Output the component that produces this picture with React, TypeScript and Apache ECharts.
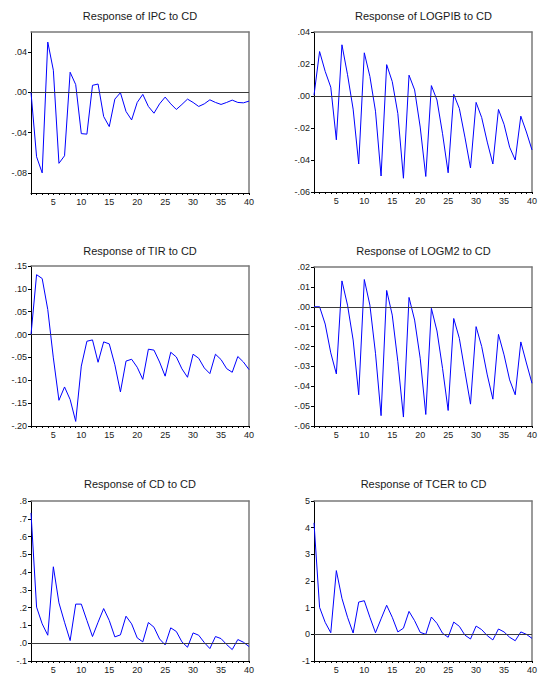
import React, { useEffect, useRef } from "react";
import * as echarts from "echarts";

// Impulse responses to a CD shock, periods 1..40
const periods: number[] = Array.from({ length: 40 }, (_, i) => i + 1);

const ipc = [
  0.0, -0.064, -0.08, 0.05, 0.022, -0.0705, -0.063, 0.02, 0.0077, -0.041,
  -0.0415, 0.007, 0.0083, -0.024, -0.034, -0.0067, -0.0003, -0.019, -0.0274, -0.01,
  -0.002, -0.014, -0.0207, -0.0114, -0.0047, -0.0114, -0.017, -0.012, -0.0067, -0.01,
  -0.014, -0.0114, -0.0074, -0.01, -0.012, -0.01, -0.0077, -0.01, -0.0104, -0.0087,
];
const logpib = [
  0.0005, 0.0278, 0.0154, 0.0055, -0.0274, 0.032, 0.0133, -0.0082, -0.0425, 0.027,
  0.0122, -0.0095, -0.05, 0.0196, 0.009, -0.011, -0.0514, 0.013, 0.0038, -0.0194,
  -0.0503, 0.0065, -0.0025, -0.0236, -0.048, 0.001, -0.0078, -0.0257, -0.045, -0.004,
  -0.0135, -0.0288, -0.0425, -0.0084, -0.0177, -0.032, -0.04, -0.0126, -0.0225, -0.0337,
];
const tir = [
  0.0, 0.131, 0.1226, 0.0547, -0.051, -0.1438, -0.1146, -0.142, -0.19, -0.069,
  -0.0146, -0.0117, -0.0606, -0.016, -0.0204, -0.066, -0.1255, -0.058, -0.054, -0.0715,
  -0.098, -0.032, -0.034, -0.06, -0.091, -0.0387, -0.049, -0.075, -0.0934, -0.043,
  -0.0518, -0.073, -0.0854, -0.043, -0.0547, -0.0745, -0.0825, -0.048, -0.06, -0.0766,
];
const logm2 = [
  0.0, 0.0, -0.0087, -0.0232, -0.0338, 0.013, 0.0008, -0.0167, -0.0443, 0.0137,
  0.0008, -0.0234, -0.0548, 0.0082, -0.0042, -0.0276, -0.0555, 0.0047, -0.0067, -0.0259,
  -0.0542, -0.0008, -0.0122, -0.031, -0.0522, -0.0059, -0.0159, -0.0326, -0.049, -0.01,
  -0.02, -0.0343, -0.0465, -0.0139, -0.0242, -0.0368, -0.0443, -0.0177, -0.0283, -0.0385,
];
const cd = [
  0.733, 0.203, 0.109, 0.045, 0.43, 0.227, 0.118, 0.015, 0.22, 0.22,
  0.128, 0.0376, 0.118, 0.195, 0.128, 0.0357, 0.047, 0.152, 0.109, 0.03,
  0.0075, 0.1165, 0.09, 0.024, -0.0094, 0.0865, 0.066, 0.0075, -0.0226, 0.058,
  0.045, 0.0038, -0.03, 0.0376, 0.026, -0.0075, -0.0357, 0.0207, 0.0056, -0.0188,
];
const tcer = [
  4.18, 1.01, 0.45, 0.06, 2.39, 1.35, 0.64, 0.05, 1.21, 1.26,
  0.64, 0.06, 0.58, 1.09, 0.64, 0.09, 0.23, 0.86, 0.51, 0.075,
  0.0, 0.65, 0.41, 0.04, -0.11, 0.46, 0.3, -0.03, -0.175, 0.31,
  0.175, -0.05, -0.21, 0.2, 0.09, -0.11, -0.24, 0.09, 0.0, -0.15,
];

// Axis tick values
const xLabelTicks = [5, 10, 15, 20, 25, 30, 35, 40];
const ipcTicks = [-0.08, -0.04, 0, 0.04];
const logpibTicks = [-0.06, -0.04, -0.02, 0, 0.02, 0.04];
const tirTicks = [-0.2, -0.15, -0.1, -0.05, 0, 0.05, 0.1, 0.15];
const logm2Ticks = [-0.06, -0.05, -0.04, -0.03, -0.02, -0.01, 0, 0.01, 0.02];
const cdTicks = [-0.1, 0, 0.1, 0.2, 0.3, 0.4, 0.5, 0.6, 0.7, 0.8];
const tcerTicks = [-1, 0, 1, 2, 3, 4, 5];

const titles = [
  "Response of IPC to CD",
  "Response of LOGPIB to CD",
  "Response of TIR to CD",
  "Response of LOGM2 to CD",
  "Response of CD to CD",
  "Response of TCER to CD",
];

type Panel = {
  title: string;
  values: number[];
  ticks: number[];
  min: number;
  max: number;
  decimals: number;
  left: number;
  top: number;
  width: number;
  height: number;
};

const FONT = "'Liberation Sans', Arial, sans-serif";

const fmt = (decimals: number) => (v: number) => {
  const x = Math.abs(v) < 1e-9 ? 0 : v;
  const s = x.toFixed(decimals);
  if (decimals === 0) return s;
  return s.replace(/^(-?)0\./, "$1.");
};

export default function App() {
  const ref = useRef<HTMLDivElement>(null);

  useEffect(() => {
    if (!ref.current) return;
    const chart = echarts.init(ref.current, undefined, { renderer: "svg" });

    const panels: Panel[] = [
      { title: titles[0], values: ipc, ticks: ipcTicks, min: -0.1, max: 0.06, decimals: 2, left: 31, top: 32, width: 218, height: 161 },
      { title: titles[1], values: logpib, ticks: logpibTicks, min: -0.06, max: 0.04, decimals: 2, left: 314, top: 32, width: 219, height: 160 },
      { title: titles[2], values: tir, ticks: tirTicks, min: -0.2, max: 0.15, decimals: 2, left: 31, top: 266, width: 218, height: 160 },
      { title: titles[3], values: logm2, ticks: logm2Ticks, min: -0.06, max: 0.02, decimals: 2, left: 314, top: 267, width: 219, height: 159 },
      { title: titles[4], values: cd, ticks: cdTicks, min: -0.1, max: 0.8, decimals: 1, left: 31, top: 501, width: 218, height: 160 },
      { title: titles[5], values: tcer, ticks: tcerTicks, min: -1, max: 5, decimals: 0, left: 314, top: 501, width: 219, height: 160 },
    ];
    const titleY = [16, 16, 251, 251, 484, 484];

    const grid: any[] = [];
    const xAxis: any[] = [];
    const yAxis: any[] = [];
    const series: any[] = [];
    const graphic: any[] = [];

    panels.forEach((p, i) => {
      grid.push({ left: p.left, top: p.top, width: p.width, height: p.height, show: false });

      // bottom axis
      xAxis.push({
        type: "value",
        gridIndex: i,
        min: 1,
        max: 40,
        position: "bottom",
        axisLine: { show: true, onZero: false, lineStyle: { color: "#000", width: 1 } },
        axisTick: { show: true, length: 2, inside: false, customValues: periods, lineStyle: { color: "#000", width: 1 } },
        axisLabel: {
          show: true,
          customValues: xLabelTicks,
          margin: 4,
          fontSize: 9,
          fontFamily: FONT,
          color: "#1a1a1a",
          formatter: (v: number) => String(v),
        },
        splitLine: { show: false },
      });
      // top frame edge
      xAxis.push({
        type: "value",
        gridIndex: i,
        min: 1,
        max: 40,
        position: "top",
        axisLine: { show: true, onZero: false, lineStyle: { color: "#7a7a7a", width: 1.5 } },
        axisTick: { show: false },
        axisLabel: { show: false },
        splitLine: { show: false },
      });

      // left axis
      yAxis.push({
        type: "value",
        gridIndex: i,
        min: p.min,
        max: p.max,
        position: "left",
        axisLine: { show: true, onZero: false, lineStyle: { color: "#000", width: 1 } },
        axisTick: { show: true, length: 3, inside: false, customValues: p.ticks, lineStyle: { color: "#000", width: 1 } },
        axisLabel: {
          show: true,
          customValues: p.ticks,
          margin: 4,
          fontSize: 9,
          fontFamily: FONT,
          color: "#1a1a1a",
          formatter: fmt(p.decimals),
        },
        splitLine: { show: false },
      });
      // right frame edge
      yAxis.push({
        type: "value",
        gridIndex: i,
        min: p.min,
        max: p.max,
        position: "right",
        axisLine: { show: true, onZero: false, lineStyle: { color: "#7a7a7a", width: 1.5 } },
        axisTick: { show: false },
        axisLabel: { show: false },
        splitLine: { show: false },
      });

      series.push({
        type: "line",
        xAxisIndex: 2 * i,
        yAxisIndex: 2 * i,
        data: p.values.map((v, k) => [periods[k], v]),
        showSymbol: false,
        symbol: "none",
        lineStyle: { color: "#0000ff", width: 1 },
        markLine: {
          silent: true,
          symbol: ["none", "none"],
          label: { show: false },
          lineStyle: { color: "#3a3a3a", width: 1.2, type: "solid" },
          data: [{ yAxis: 0 }],
        },
        z: 3,
      });

      graphic.push({
        type: "text",
        x: p.left + p.width / 2,
        y: titleY[i],
        style: {
          text: p.title,
          fontSize: 11,
          fontFamily: FONT,
          fill: "#1a1a1a",
          textAlign: "center",
          textVerticalAlign: "middle",
        },
      });
    });

    chart.setOption({
      animation: false,
      backgroundColor: "#ffffff",
      grid,
      xAxis,
      yAxis,
      series,
      graphic,
    });

    return () => chart.dispose();
  }, []);

  return (
    <div
      ref={ref}
      style={{ position: "fixed", left: 0, top: 0, width: 540, height: 675, background: "#fff" }}
    />
  );
}
